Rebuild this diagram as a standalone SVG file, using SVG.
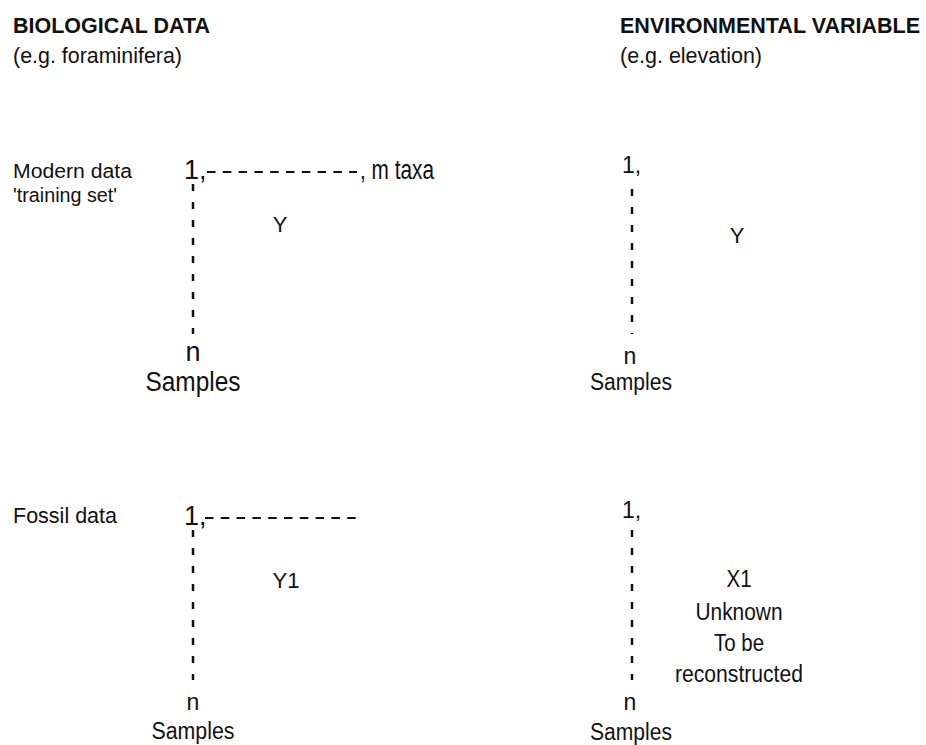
<svg xmlns="http://www.w3.org/2000/svg" width="926" height="745" viewBox="0 0 926 745">
<style>
text{font-family:"Liberation Sans",Arial,sans-serif;fill:#111}
.h{font-weight:bold;font-size:22px}
.s{font-size:22px}
.r{font-size:20px}
.t{font-size:23px}
.b{font-size:27px}
.m{text-anchor:middle}
.hd{stroke:#111;stroke-width:2;stroke-dasharray:8.5 7.3;fill:none}
.vd{stroke:#111;stroke-width:2.5;stroke-dasharray:7 11;fill:none}
</style>
<rect width="926" height="745" fill="#fff"/>
<g id="headers">
<text class="h" x="13" y="33" textLength="197" lengthAdjust="spacingAndGlyphs">BIOLOGICAL DATA</text>
<text class="s" x="13" y="63" textLength="169" lengthAdjust="spacingAndGlyphs">(e.g. foraminifera)</text>
<text class="h" x="620" y="33" textLength="300" lengthAdjust="spacingAndGlyphs">ENVIRONMENTAL VARIABLE</text>
<text class="s" x="620" y="63" textLength="142" lengthAdjust="spacingAndGlyphs">(e.g. elevation)</text>
</g>
<g id="row-labels">
<text class="r" x="13" y="178" textLength="119" lengthAdjust="spacingAndGlyphs">Modern data</text>
<text class="r" x="13" y="202" textLength="104" lengthAdjust="spacingAndGlyphs">'training set'</text>
<text class="s" x="13" y="523" textLength="104" lengthAdjust="spacingAndGlyphs">Fossil data</text>
</g>
<g id="connectors">
<line class="hd" x1="207" y1="172" x2="357" y2="172"/>
<line class="vd" x1="193" y1="184" x2="193" y2="334"/>
<line class="vd" x1="632" y1="189" x2="632" y2="334"/>
<line class="hd" x1="205" y1="518" x2="358" y2="518"/>
<line class="vd" x1="193" y1="530" x2="193" y2="680"/>
<line class="vd" x1="632" y1="530" x2="632" y2="680"/>
</g>
<g id="modern-bio">
<text class="b" x="184" y="179">1,</text>
<text class="b" x="360" y="179" textLength="74" lengthAdjust="spacingAndGlyphs">, m taxa</text>
<text class="s m" x="280" y="232">Y</text>
<text class="b m" x="193" y="361">n</text>
<text class="b m" x="193" y="391" textLength="95" lengthAdjust="spacingAndGlyphs">Samples</text>
</g>
<g id="modern-env">
<text class="t" x="622" y="173">1,</text>
<text class="s m" x="737" y="243">Y</text>
<text class="t m" x="630" y="364">n</text>
<text class="t m" x="631" y="390" textLength="82" lengthAdjust="spacingAndGlyphs">Samples</text>
</g>
<g id="fossil-bio">
<text class="b" x="184" y="525">1,</text>
<text class="s m" x="286" y="588" textLength="27" lengthAdjust="spacingAndGlyphs">Y1</text>
<text class="t m" x="193" y="710">n</text>
<text class="t m" x="193" y="739" textLength="83" lengthAdjust="spacingAndGlyphs">Samples</text>
</g>
<g id="fossil-env">
<text class="t" x="622" y="518">1,</text>
<text class="t m" x="739" y="587" textLength="25" lengthAdjust="spacingAndGlyphs">X1</text>
<text class="t m" x="739" y="620" textLength="87" lengthAdjust="spacingAndGlyphs">Unknown</text>
<text class="t m" x="739" y="651" textLength="50" lengthAdjust="spacingAndGlyphs">To be</text>
<text class="t m" x="739" y="682" textLength="128" lengthAdjust="spacingAndGlyphs">reconstructed</text>
<text class="t m" x="630" y="710">n</text>
<text class="t m" x="631" y="740" textLength="82" lengthAdjust="spacingAndGlyphs">Samples</text>
</g>
</svg>
